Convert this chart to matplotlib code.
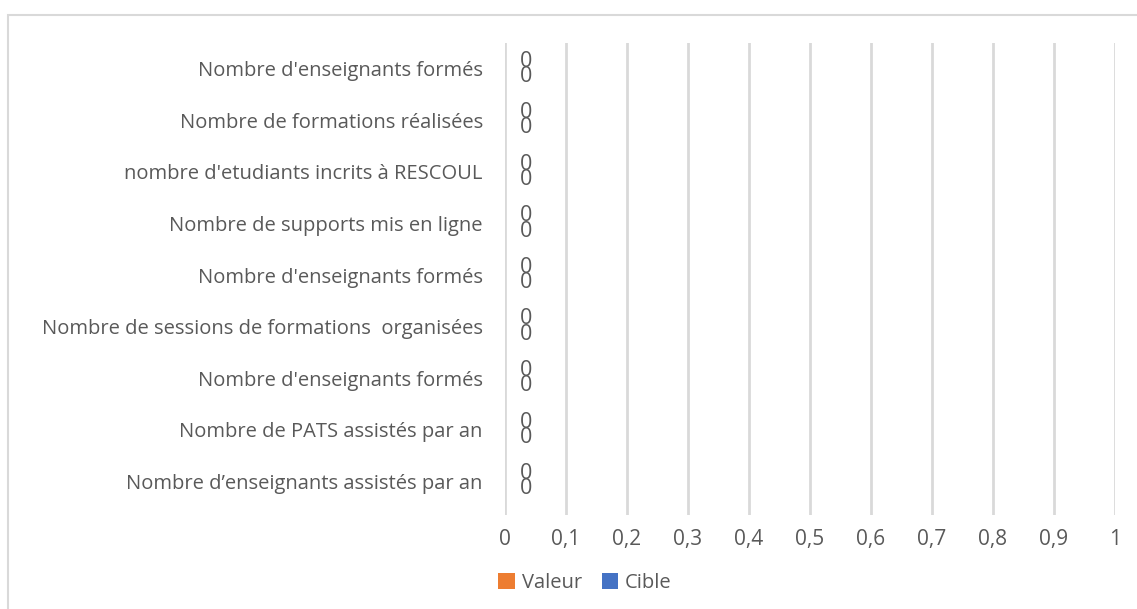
import matplotlib.pyplot as plt
import numpy as np
from matplotlib.patches import Rectangle

categories = [
    "Nombre d'enseignants formés",
    "Nombre de formations réalisées",
    "nombre d'etudiants incrits à RESCOUL",
    "Nombre de supports mis en ligne",
    "Nombre d'enseignants formés",
    "Nombre de sessions de formations  organisées",
    "Nombre d'enseignants formés",
    "Nombre de PATS assistés par an",
    "Nombre d\u2019enseignants assistés par an",
]
valeur = [0, 0, 0, 0, 0, 0, 0, 0, 0]
cible = [0, 0, 0, 0, 0, 0, 0, 0, 0]
x_ticks = [0, 0.1, 0.2, 0.3, 0.4, 0.5, 0.6, 0.7, 0.8, 0.9, 1]
x_labels = ["0", "0,1", "0,2", "0,3", "0,4", "0,5", "0,6", "0,7", "0,8", "0,9", "1"]

plt.rcParams['font.family'] = ['Open Sans', 'DejaVu Sans']
text_color = '#595959'
grid_color = '#d9d9d9'

fig = plt.figure(figsize=(11.37, 6.09), dpi=100)
# outer chart border
fig.patches.append(Rectangle((8 / 1137, -0.01), 1.2, (609 - 15) / 609 + 0.01,
                             transform=fig.transFigure, fill=False,
                             edgecolor=grid_color, linewidth=1.5))

ax = fig.add_axes([505 / 1137, (609 - 515) / 609, (1115 - 505) / 1137, (515 - 43) / 609])

y = np.arange(len(categories))
h = 0.3
ax.barh(y + h / 2, valeur, height=h, color='#ed7d31', label='Valeur')
ax.barh(y - h / 2, cible, height=h, color='#4472c4', label='Cible')

# data labels: both series are zero, the two labels sit on top of each other
for i in range(len(categories)):
    ax.text(max(valeur[i], cible[i]) + 0.035, y[i], f"{cible[i]}\n{valeur[i]}",
            ha='center', va='center', fontsize=15.5, color=text_color,
            linespacing=0.64)

ax.set_xlim(0, 1)
ax.set_ylim(len(categories) - 0.345, -0.5)
ax.set_yticks(y)
ax.set_yticklabels(categories, fontsize=14.5, color=text_color)
ax.set_xticks(x_ticks)
ax.set_xticklabels(x_labels, fontsize=15, color=text_color)
ax.tick_params(axis='both', length=0)
ax.tick_params(axis='y', pad=16)
ax.tick_params(axis='x', pad=10)
ax.xaxis.grid(True, color=grid_color, linewidth=2)
ax.set_axisbelow(True)
for s in ax.spines.values():
    s.set_visible(False)

fig.legend(loc='center', bbox_to_anchor=(585 / 1137, 1 - 583 / 609),
           ncol=2, frameon=False, fontsize=14.5, labelcolor=text_color,
           handlelength=0.8, handleheight=0.8, handletextpad=0.35, columnspacing=1.0)

fig.savefig('out.png', dpi=100)
